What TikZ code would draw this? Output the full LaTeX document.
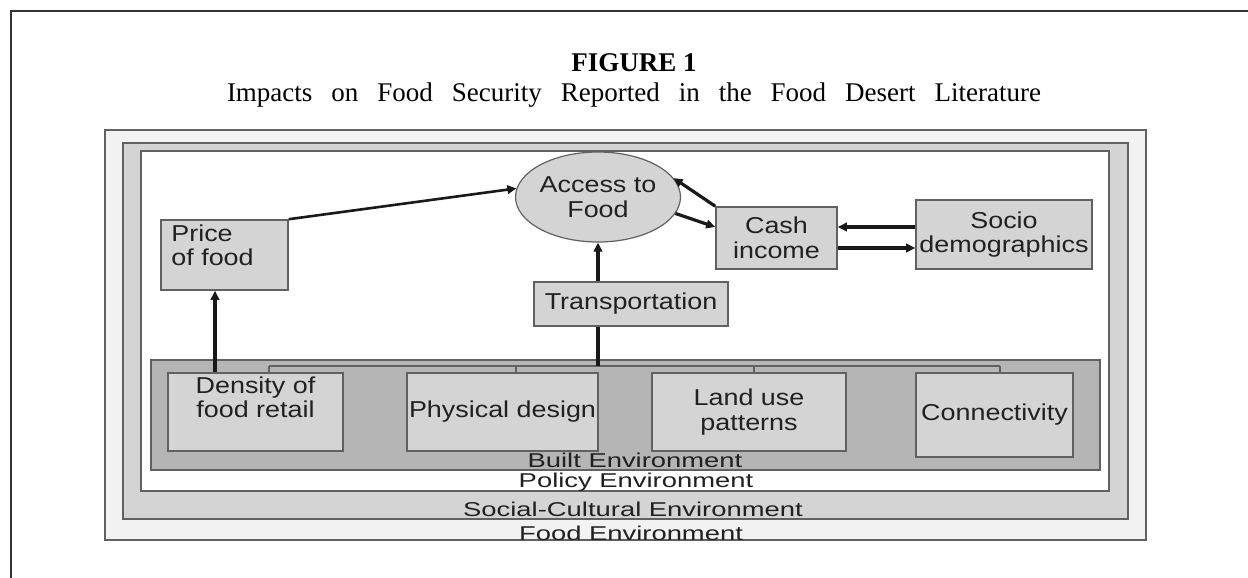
\documentclass[tikz,border=0pt]{standalone}
\usepackage{fontspec}
\setmainfont{Liberation Serif}
\setsansfont[FakeStretch=1.17]{Liberation Sans}
\newfontfamily\envfont[FakeStretch=1.37]{Liberation Sans}
\usetikzlibrary{arrows.meta,shapes.geometric}
\definecolor{envlight}{gray}{0.95}
\definecolor{envmid}{gray}{0.83}
\definecolor{envdark}{gray}{0.71}
\definecolor{boxgray}{gray}{0.83}
\definecolor{edgegray}{gray}{0.38}
\definecolor{inkgray}{gray}{0.13}
\begin{document}
\begin{tikzpicture}[x=1pt,y=-1pt,
  envbox/.style={draw=edgegray,line width=1.6pt,inner sep=0pt},
  box/.style={draw=edgegray,fill=boxgray,line width=1.6pt,inner sep=0pt,
    font=\sffamily\fontsize{23}{24.5}\selectfont,text=inkgray,align=center},
  txt/.style={font=\sffamily\fontsize{23}{24.5}\selectfont,text=inkgray,inner sep=0pt},
  envtxt/.style={font=\envfont\fontsize{20}{20}\selectfont,text=inkgray,inner sep=0pt,anchor=base},
  arr/.style={line width=3.2pt,draw=black!90,-{Triangle[length=9pt,width=8.5pt]}},
  busline/.style={line width=1.8pt,draw=edgegray}]
\useasboundingbox (0,0) rectangle (1248,578);
% page frame
\coordinate (ftl) at (11,11);
\coordinate (ftr) at (1248,11);
\coordinate (fbl) at (11,578);
\draw[line width=2pt,draw=black!80] (fbl) -- (ftl) -- (ftr);
% titles
\node[anchor=base,inner sep=0pt,font=\bfseries\fontsize{27}{30}\selectfont] (fig) at (634,71) {FIGURE 1};
\node[anchor=base,inner sep=0pt,font=\fontsize{27}{30}\selectfont] (sub) at (634,102)
  {\makebox[814pt][s]{Impacts on Food Security Reported in the Food Desert Literature}};
% environment frames
\node[envbox,fill=envlight,minimum width=1041pt,minimum height=410pt] (foodenv) at (625.5,335) {};
\node[envbox,fill=envmid,minimum width=1005pt,minimum height=376pt] (social) at (625.5,331) {};
\node[envbox,fill=white,minimum width=968pt,minimum height=340pt] (policy) at (625,321) {};
\node[envbox,fill=envdark,minimum width=949pt,minimum height=110pt] (built) at (625.5,415) {};
% bus connector
\coordinate (b1) at (269,366);
\coordinate (b2) at (516,366);
\coordinate (b3) at (754,366);
\coordinate (b4) at (1000,366);
\coordinate (bt) at (598,366);
\coordinate (pc) at (215,0);
% built-environment boxes
\node[box,minimum width=175pt,minimum height=78pt] (density) at (255.5,412) {};
\node[txt,align=center,anchor=north] (densitytxt) at ([yshift=-4pt]density.north) {Density of\\food retail};
\node[box,minimum width=191pt,minimum height=78pt] (physical) at (502.5,412) {Physical design};
\node[box,minimum width=194pt,minimum height=78pt] (landuse) at (749,412) {Land use\\patterns};
\node[box,minimum width=157pt,minimum height=84pt] (connect) at (994.5,415) {Connectivity};
\draw[busline] (b1) -- (b4);
\draw[busline] (b1) -- (b1 |- density.north);
\draw[busline] (b2) -- (b2 |- physical.north);
\draw[busline] (b3) -- (b3 |- landuse.north);
\draw[busline] (b4) -- (b4 |- connect.north);
% upper nodes
\node[box,minimum width=127pt,minimum height=70pt] (price) at (224.5,255) {};
\node[txt,align=left,anchor=north west] (pricetxt) at ([xshift=11pt,yshift=-5pt]price.north west) {Price\\of food};
\node[box,ellipse,minimum width=146pt,minimum height=90pt,line width=1.2pt] (access) at (598,197) {Access to\\Food};
\node[box,minimum width=194pt,minimum height=44pt] (transport) at (631,304) {Transportation};
\node[box,minimum width=121pt,minimum height=62pt] (cash) at (776.5,238) {Cash\\income};
\node[box,minimum width=176pt,minimum height=69pt] (socio) at (1004,234.5) {Socio\\demographics};
% connectors
\draw[line width=3.2pt,draw=black!90] (bt) -- (transport.south -| access.south);
\draw[arr] (transport.north -| access.south) -- (access.south);
\draw[arr] (density.north -| pc) -- (price.south -| pc);
\draw[arr,line width=2.6pt] (price.north east) -- (access.174);
\draw[arr] (cash.north west) -- (access.14);
\draw[arr] (access.-12) -- ([yshift=11pt]cash.west);
\draw[arr] ([yshift=7.5pt]socio.west) -- ([yshift=7.5pt]socio.west -| cash.east);
\draw[arr] ([yshift=-10pt]cash.east) -- ([yshift=-10pt]cash.east -| socio.west);
% environment labels
\node[envtxt] (builtlbl) at (635,467) {Built Environment};
\node[envtxt] (policylbl) at (636,487) {Policy Environment};
\node[envtxt] (sociallbl) at (633,516) {Social-Cultural Environment};
\node[envtxt] (foodlbl) at (631,540) {Food Environment};
\end{tikzpicture}
\end{document}
